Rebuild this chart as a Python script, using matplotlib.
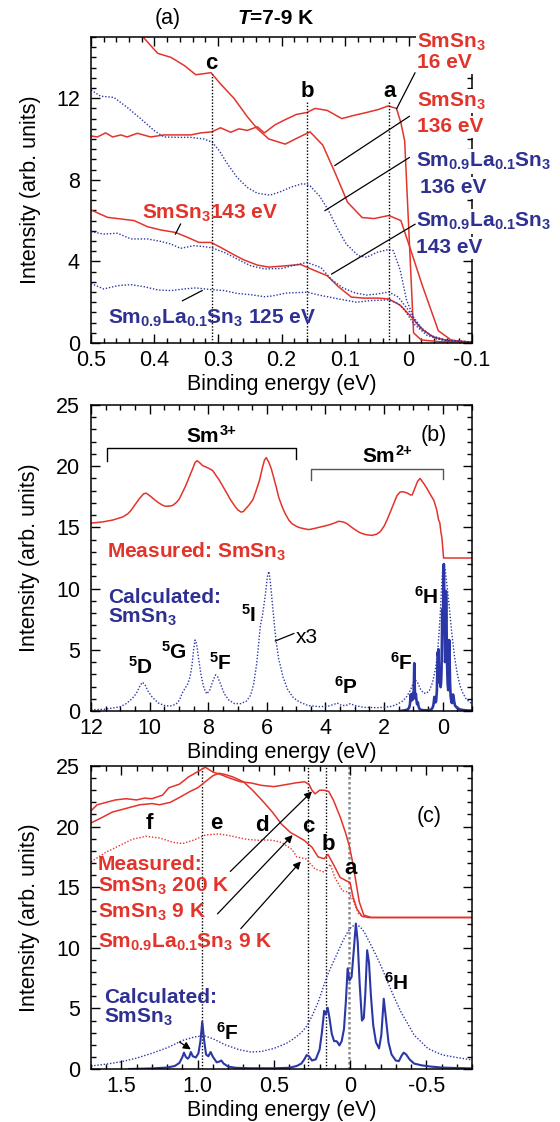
import matplotlib
matplotlib.use("Agg")
import matplotlib.pyplot as plt
from matplotlib.ticker import MultipleLocator, FuncFormatter

plt.rcParams.update({
    "font.family": ["Liberation Sans", "DejaVu Sans"],
    "mathtext.fontset": "custom",
    "mathtext.rm": "Liberation Sans",
    "mathtext.bf": "Liberation Sans:bold",
    "mathtext.it": "Liberation Sans:italic",
    "mathtext.default": "bf",
    "axes.unicode_minus": False,
})

RED = "#e3342b"
BLUE = "#2e3192"
BLUE_LINE = "#2b37a6"
DOT = (0, (1.0, 1.3))

# ---------------- panel (a): T = 7-9 K, near E_F ----------------
a16_x = [0.500, 0.490, 0.477, 0.466, 0.453, 0.443, 0.427, 0.406, 0.385, 0.364, 0.343, 0.327,
         0.310, 0.296, 0.280, 0.267, 0.254, 0.238, 0.227, 0.210, 0.194, 0.177, 0.160, 0.147,
         0.128, 0.105, 0.087, 0.066, 0.047, 0.032, 0.019, 0.012, 0.006, -0.008, -0.020,
         -0.050, -0.100]
a16_y = [10.15, 10.10, 10.30, 10.10, 10.20, 10.10, 10.28, 10.10, 10.20, 10.20, 10.20, 10.30,
         10.35, 10.55, 10.33, 10.50, 10.42, 10.60, 10.30, 10.70, 10.95, 11.20, 11.30, 11.50,
         11.40, 11.00, 11.15, 11.30, 11.45, 11.62, 11.50, 10.80, 9.90, 0.50, 0.15,
         0.06, 0.05]

a136_x = [0.425, 0.418, 0.395, 0.374, 0.353, 0.335, 0.311, 0.296, 0.275, 0.254, 0.238, 0.220,
          0.194, 0.175, 0.155, 0.135, 0.115, 0.096, 0.073, 0.054, 0.031, 0.012, -0.002,
          -0.022, -0.047, -0.067, -0.086, -0.100]
a136_y = [15.3, 15.0, 14.2, 14.0, 13.6, 13.15, 13.25, 12.7, 12.0, 11.1, 10.5, 10.0,
          9.75, 10.05, 10.35, 9.7, 8.3, 6.9, 6.15, 6.1, 6.25, 6.0, 4.7,
          2.8, 0.6, 0.15, 0.06, 0.05]

aLa136_x = [0.500, 0.485, 0.464, 0.443, 0.422, 0.400, 0.385, 0.364, 0.343, 0.322, 0.309, 0.298,
            0.285, 0.270, 0.254, 0.238, 0.218, 0.203, 0.184, 0.166, 0.155, 0.140, 0.126, 0.113,
            0.098, 0.079, 0.066, 0.050, 0.032, 0.024, 0.013, 0.003, -0.008, -0.023, -0.044,
            -0.070, -0.100]
aLa136_y = [12.40, 12.10, 12.04, 11.55, 11.00, 10.40, 10.10, 10.08, 10.08, 10.00, 9.84, 9.43,
            8.77, 8.12, 7.63, 7.34, 7.25, 7.40, 7.65, 7.82, 7.70, 7.20, 6.50, 5.67,
            4.85, 4.28, 4.20, 4.44, 4.58, 4.53, 3.56, 2.10, 1.27, 0.62, 0.20,
            0.10, 0.05]

a143_x = [0.500, 0.474, 0.453, 0.432, 0.411, 0.390, 0.367, 0.348, 0.330, 0.311, 0.296, 0.277,
          0.259, 0.238, 0.220, 0.195, 0.170, 0.155, 0.140, 0.128, 0.110, 0.090, 0.070, 0.048,
          0.031, 0.013, -0.005, -0.020, -0.039, -0.060, -0.100]
a143_y = [6.52, 6.16, 6.08, 6.00, 5.70, 5.54, 5.42, 5.18, 4.93, 4.93, 4.69, 4.36,
          4.07, 3.82, 3.72, 3.78, 3.85, 3.65, 3.45, 3.30, 2.75, 2.25, 2.20, 2.20,
          2.16, 1.85, 1.26, 0.70, 0.30, 0.13, 0.05]

aLa143_x = [0.500, 0.480, 0.458, 0.437, 0.411, 0.390, 0.374, 0.359, 0.338, 0.320, 0.309, 0.290,
            0.270, 0.249, 0.227, 0.200, 0.175, 0.160, 0.138, 0.121, 0.103, 0.084, 0.066, 0.050,
            0.031, 0.016, 0.000, -0.013, -0.034, -0.060, -0.100]
aLa143_y = [5.46, 5.34, 5.38, 5.10, 5.10, 4.98, 4.85, 4.64, 4.77, 4.72, 4.66, 4.44,
            4.12, 3.79, 3.63, 3.65, 3.85, 3.95, 3.70, 3.10, 2.70, 2.45, 2.35, 2.40,
            2.50, 2.25, 1.60, 0.95, 0.38, 0.13, 0.05]

aLa125_x = [0.500, 0.480, 0.458, 0.437, 0.416, 0.395, 0.374, 0.353, 0.335, 0.309, 0.290, 0.270,
            0.249, 0.227, 0.216, 0.192, 0.160, 0.138, 0.110, 0.082, 0.059, 0.031, 0.017, 0.008,
            -0.008, -0.029, -0.055, -0.100]
aLa125_y = [2.92, 2.65, 2.81, 2.86, 2.76, 2.60, 2.57, 2.65, 2.70, 2.61, 2.57, 2.43,
            2.37, 2.27, 2.30, 2.45, 2.49, 2.33, 2.16, 2.00, 2.08, 2.11, 1.95, 1.70,
            0.95, 0.38, 0.12, 0.05]

a_marks = ["c", "b", "a"]
a_mark_x = [0.31, 0.16, 0.03]
a_mark_top = [13.2, 11.8, 11.8]

# ---------------- panel (b): valence band, wide range ----------------
b_meas_x = [12.0, 11.6, 11.26, 10.92, 10.75, 10.63, 10.5, 10.35, 10.2, 10.12, 10.0, 9.85, 9.72,
            9.55, 9.44, 9.3, 9.21, 9.08, 8.98, 8.87, 8.76, 8.65, 8.53, 8.45, 8.38, 8.3, 8.19,
            8.0, 7.85, 7.75, 7.62, 7.5, 7.39, 7.25, 7.11, 7.0, 6.88, 6.8, 6.71, 6.6, 6.48, 6.38,
            6.25, 6.15, 6.08, 6.02, 5.94, 5.85, 5.77, 5.68, 5.6, 5.48, 5.37, 5.25, 5.14, 5.0,
            4.91, 4.75, 4.57, 4.4, 4.23, 4.05, 3.89, 3.7, 3.55, 3.4, 3.26, 3.1, 2.98, 2.85,
            2.75, 2.6, 2.41, 2.25, 2.13, 2.0, 1.9, 1.78, 1.67, 1.56, 1.45, 1.33, 1.2, 1.1, 1.04,
            0.95, 0.85, 0.77, 0.65, 0.53, 0.4, 0.3, 0.2, 0.14, 0.1, 0.06, 0.03, 0.0, -0.03, -1.0]
b_meas_y = [15.35, 15.45, 15.6, 15.85, 16.1, 16.4, 16.85, 17.35, 17.75, 17.8, 17.6, 17.3, 17.05,
            16.8, 16.72, 16.75, 16.8, 17.05, 17.35, 17.9, 18.45, 19.1, 19.8, 20.3, 20.45, 20.3,
            20.05, 19.85, 19.65, 19.3, 18.85, 18.35, 17.9, 17.3, 16.8, 16.45, 16.25, 16.3,
            16.55, 16.85, 17.25, 17.9, 18.85, 19.9, 20.5, 20.7, 20.35, 19.8, 19.1, 18.3, 17.5,
            16.7, 16.1, 15.6, 15.3, 15.1, 15.0, 14.9, 14.82, 14.9, 15.0, 15.1, 15.2, 15.35,
            15.5, 15.45, 15.3, 15.0, 14.8, 14.6, 14.5, 14.4, 14.35, 14.45, 14.65, 15.1, 15.6,
            16.3, 16.95, 17.6, 17.9, 17.9, 17.8, 17.65, 17.65, 18.2, 18.8, 19.0, 18.6, 18.15,
            17.6, 17.2, 16.4, 15.6, 15.4, 14.6, 14.2, 13.4, 12.5, 12.5]

b_calc3_x = [12.0, 11.5, 11.0, 10.8, 10.6, 10.45, 10.32, 10.24, 10.15, 10.05, 9.9, 9.7, 9.5, 9.3,
             9.1, 8.98, 8.88, 8.78, 8.7, 8.62, 8.55, 8.5, 8.45, 8.4, 8.33, 8.25, 8.15, 8.05,
             7.95, 7.85, 7.75, 7.68, 7.58, 7.45, 7.3, 7.1, 6.9, 6.7, 6.55, 6.45, 6.35, 6.3,
             6.22, 6.15, 6.05, 5.98, 5.93, 5.88, 5.8, 5.7, 5.6, 5.45, 5.3, 5.1, 4.9, 4.6, 4.2,
             3.9, 3.7, 3.6, 3.45, 3.3, 3.15, 3.0, 2.7, 2.2, 1.8, 1.6, 1.4, 1.25, 1.1, 1.0, 0.92,
             0.85, 0.75, 0.65, 0.55, 0.45, 0.35, 0.25, 0.18, 0.12, 0.07, 0.03, 0.0, -0.04,
             -0.08, -0.15, -0.22, -0.3, -0.4, -0.5, -0.6, -0.7, -0.8, -0.9, -1.0]
b_calc3_y = [0.1, 0.15, 0.35, 0.6, 1.0, 1.45, 2.1, 2.35, 2.1, 1.6, 1.1, 0.65, 0.45, 0.4,
             0.55, 0.9, 1.5, 1.9, 2.2, 2.8, 3.8, 5.0, 5.8, 5.5, 4.3, 3.0, 1.9, 1.4,
             1.7, 2.4, 2.95, 2.8, 2.2, 1.4, 0.9, 0.6, 0.6, 0.8, 1.3, 2.2, 3.8, 5.0,
             7.0, 7.8, 9.5, 11.0, 11.4, 10.5, 8.5, 6.0, 4.3, 2.8, 1.8, 1.1, 0.75, 0.45, 0.35,
             0.4, 0.55, 0.65, 0.45, 0.45, 0.6, 0.45, 0.3, 0.27, 0.35, 0.5, 0.75, 1.1, 1.7, 2.3,
             2.5, 2.3, 1.75, 1.45, 1.45, 1.7, 2.3, 3.4, 4.6, 6.5, 8.5, 10.5, 11.6, 12.05,
             11.6, 10.2, 8.6, 6.6, 4.5, 3.0, 2.0, 1.4, 1.0, 0.75, 0.6]

# calculated multiplet spectrum (6F and 6H terms), shared by panels (b) and (c)
calc_x = [1.45, 1.30, 1.20, 1.15, 1.12, 1.10, 1.09, 1.078, 1.065, 1.055, 1.045, 1.032, 1.012,
          0.995, 0.982, 0.970, 0.958, 0.945, 0.930, 0.915, 0.900, 0.875, 0.860, 0.845, 0.830,
          0.800, 0.750, 0.650, 0.500, 0.400, 0.350, 0.320, 0.300, 0.285, 0.270, 0.250, 0.225,
          0.200, 0.185, 0.170, 0.160, 0.147, 0.135, 0.120, 0.105, 0.090, 0.082, 0.070, 0.055,
          0.040, 0.028, 0.016, 0.004, -0.010, -0.025, -0.038, -0.050, -0.063, -0.078, -0.090,
          -0.100, -0.112, -0.124, -0.137, -0.152, -0.170, -0.190, -0.205, -0.221, -0.235,
          -0.252, -0.272, -0.300, -0.320, -0.338, -0.352, -0.368, -0.390, -0.420, -0.470,
          -0.530, -0.600, -0.700, -0.800, -1.000]
calc_y = [0.0, 0.05, 0.12, 0.25, 0.5, 1.0, 1.35, 1.0, 0.85, 1.0, 1.4, 1.05, 0.95,
          1.3, 2.3, 3.9, 2.4, 1.2, 1.05, 1.4, 1.0, 0.55, 0.6, 0.7, 0.45,
          0.2, 0.1, 0.06, 0.06, 0.1, 0.25, 0.45, 0.8, 1.15, 1.05, 0.7, 0.8,
          1.6, 3.0, 4.8, 4.5, 5.05, 4.2, 2.9, 2.3, 2.3, 2.2, 1.95, 2.3,
          3.3, 5.5, 8.3, 7.3, 7.6, 9.9, 12.0, 10.5, 7.0, 4.0, 4.2,
          6.2, 9.8, 8.8, 6.0, 3.6, 2.2, 1.7, 2.8, 5.8, 4.2,
          2.2, 1.2, 0.7, 0.65, 1.1, 1.35, 1.2, 0.8, 0.45, 0.3,
          0.2, 0.12, 0.08, 0.05, 0.03]

sm3_span = [11.45, 5.0]
sm2_span = [4.5, 0.0]

# ---------------- panel (c): near E_F, temperature dependence ----------------
c200_x = [1.70, 1.66, 1.60, 1.54, 1.47, 1.40, 1.35, 1.30, 1.23, 1.19, 1.12, 1.06, 0.99, 0.95,
          0.90, 0.85, 0.79, 0.72, 0.65, 0.58, 0.50, 0.45, 0.36, 0.30, 0.27, 0.25, 0.23, 0.20,
          0.17, 0.14, 0.11, 0.065, 0.03, 0.005, -0.013, -0.035, -0.06, -0.09, -0.14, -0.80]
c200_y = [21.3, 21.8, 22.0, 22.2, 22.3, 22.2, 22.35, 22.3, 22.6, 23.2, 23.5, 24.1, 24.6, 24.9,
          24.5, 24.3, 24.0, 23.7, 23.6, 23.4, 23.3, 23.4, 23.6, 23.7, 23.5, 23.0, 22.7, 23.0,
          23.0, 22.9, 22.2, 20.8, 19.5, 18.4, 17.3, 15.7, 13.8, 12.7, 12.5, 12.5]

c9_x = [1.70, 1.62, 1.56, 1.47, 1.38, 1.30, 1.25, 1.18, 1.12, 1.05, 1.00, 0.95, 0.90, 0.86, 0.82,
        0.77, 0.70, 0.64, 0.58, 0.51, 0.45, 0.39, 0.36, 0.30, 0.25, 0.21, 0.17, 0.145, 0.11,
        0.065, 0.02, 0.0, -0.017, -0.045, -0.078, -0.12, -0.80]
c9_y = [20.3, 20.8, 21.2, 21.5, 21.8, 21.9, 21.8, 22.0, 22.4, 22.9, 23.2, 23.7, 24.2, 24.4, 24.3,
        24.1, 23.7, 23.0, 22.2, 21.2, 20.2, 19.5, 19.3, 18.85, 18.3, 17.5, 17.35, 17.7, 16.9,
        15.8, 15.5, 15.4, 14.3, 13.2, 12.6, 12.5, 12.5]

cLa_x = [1.70, 1.60, 1.51, 1.43, 1.34, 1.25, 1.16, 1.10, 1.03, 0.95, 0.86, 0.77, 0.68, 0.60,
         0.55, 0.51, 0.45, 0.38, 0.35, 0.29, 0.23, 0.17, 0.13, 0.10, 0.05, 0.01, -0.024, -0.056,
         -0.10]
cLa_y = [17.1, 17.9, 18.45, 18.95, 19.2, 19.06, 18.7, 18.6, 18.87, 19.3, 19.4, 19.2, 18.95, 18.87,
         18.9, 18.87, 18.7, 18.1, 17.5, 17.35, 16.5, 16.25, 16.9, 15.8, 14.7, 14.6, 13.8, 12.8,
         12.5]

c_broad_x = [1.70, 1.60, 1.50, 1.40, 1.30, 1.20, 1.10, 1.02, 0.96, 0.90, 0.82, 0.73, 0.65, 0.58,
             0.50, 0.42, 0.37, 0.32, 0.28, 0.245, 0.21, 0.18, 0.15, 0.115, 0.08, 0.05, 0.016,
             -0.01, -0.038, -0.065, -0.093, -0.13, -0.17, -0.21, -0.246, -0.29, -0.334, -0.38,
             -0.42, -0.47, -0.51, -0.56, -0.61, -0.70, -0.80]
c_broad_y = [0.25, 0.4, 0.6, 0.9, 1.3, 1.75, 2.35, 2.65, 2.75, 2.5, 2.0, 1.6, 1.4, 1.45,
             1.7, 2.1, 2.5, 3.0, 3.6, 4.5, 5.5, 6.6, 7.7, 8.7, 9.65, 10.5, 11.3,
             11.75, 11.9, 11.75, 11.3, 10.4, 9.4, 8.3, 7.2, 5.9, 4.7, 3.7,
             2.8, 2.2, 1.7, 1.4, 1.15, 0.95, 0.75]

c_marks = ["f", "e", "d", "c", "b", "a"]
c_mark_x = [1.317, 0.88, 0.578, 0.272, 0.14, -0.002]
c_mark_y = [19.8, 19.8, 19.6, 19.55, 18.05, 16.1]
c_line_x = [0.97, 0.275, 0.155]
c_line_a = 0.005


def fmt_dec(v, _):
    return "0" if abs(v) < 1e-9 else f"{v:.1f}"


def fmt_int(v, _):
    return f"{v:.0f}"


def style(ax, xmaj, xmin, ymaj, ymin, xfmt):
    ax.xaxis.set_major_locator(MultipleLocator(xmaj))
    ax.xaxis.set_minor_locator(MultipleLocator(xmin))
    ax.yaxis.set_major_locator(MultipleLocator(ymaj))
    ax.yaxis.set_minor_locator(MultipleLocator(ymin))
    ax.xaxis.set_major_formatter(FuncFormatter(xfmt))
    ax.yaxis.set_major_formatter(FuncFormatter(fmt_int))
    ax.tick_params(which="both", direction="in", top=True, right=True,
                   labelsize=15.5, width=1.0)
    ax.tick_params(which="major", length=6.5)
    ax.tick_params(which="minor", length=3.5)
    ax.tick_params(axis="y", pad=8)
    ax.tick_params(axis="x", pad=5)
    for s in ax.spines.values():
        s.set_linewidth(1.1)
    ax.set_xlabel("Binding energy (eV)", fontsize=15.5, labelpad=2)
    ax.set_ylabel("Intensity (arb. units)", fontsize=15.5, labelpad=11)


def ion_label(ax, x, y, charge):
    base = ax.text(x, y, "Sm", fontsize=15, fontweight="bold", ha="center",
                   va="baseline")
    ax.annotate(charge, xy=(1, 1), xycoords=base, xytext=(0.5, -3),
                textcoords="offset points", fontsize=10.5, fontweight="bold",
                ha="left", va="center")


fig = plt.figure(figsize=(5.6, 11.22), dpi=100)
L, W = 91 / 560, 381 / 560
axA = fig.add_axes([L, 1 - 343 / 1122, W, 306 / 1122])
axB = fig.add_axes([L, 1 - 711 / 1122, W, 306 / 1122])
axC = fig.add_axes([L, 1 - 1069 / 1122, W, 303 / 1122])

# ---------- (a) ----------
ax = axA
ax.set_xlim(0.5, -0.1)
ax.set_ylim(0, 15)
style(ax, 0.1, 0.02, 4, 0.5, fmt_dec)
ax.plot(a16_x, a16_y, color=RED, lw=1.1)
ax.plot(a136_x, a136_y, color=RED, lw=1.1)
ax.plot(a143_x, a143_y, color=RED, lw=1.1)
ax.plot(aLa136_x, aLa136_y, color=BLUE_LINE, lw=1.0, ls=DOT)
ax.plot(aLa143_x, aLa143_y, color=BLUE_LINE, lw=1.0, ls=DOT)
ax.plot(aLa125_x, aLa125_y, color=BLUE_LINE, lw=1.0, ls=DOT)
for m, xv, top in zip(a_marks, a_mark_x, a_mark_top):
    ax.vlines(xv, 0, top, color="k", lw=1.0, ls=DOT)
    ax.text(xv, top + 0.25, m, ha="center", va="baseline", fontsize=16,
            fontweight="bold")

box = dict(facecolor="white", edgecolor="none", pad=1.0)
right_labels = [
    ("SmSn$_3$", -0.0134, 14.50, RED),
    ("16 eV", -0.0134, 13.47, RED),
    ("SmSn$_3$", -0.0134, 11.60, RED),
    ("136 eV", -0.0134, 10.34, RED),
    ("Sm$_{0.9}$La$_{0.1}$Sn$_3$", -0.012, 8.63, BLUE),
    ("136 eV", -0.018, 7.34, BLUE),
    ("Sm$_{0.9}$La$_{0.1}$Sn$_3$", -0.012, 5.69, BLUE),
    ("143 eV", -0.012, 4.40, BLUE),
]
for s, xv, yv, c in right_labels:
    ax.text(xv, yv, s, color=c, fontsize=15, fontweight="bold", ha="left",
            va="baseline", clip_on=False, bbox=box, zorder=5)
ax.text(0.42, 6.08, "SmSn$_3$143 eV", color=RED, fontsize=15, fontweight="bold",
        ha="left", va="baseline")
ax.text(0.474, 0.93, "Sm$_{0.9}$La$_{0.1}$Sn$_3$ 125 eV", color=BLUE, fontsize=15,
        fontweight="bold", ha="left", va="baseline")
leaders_a = [((-0.0102, 13.24), (0.0186, 11.49)),
             ((-0.0013, 11.11), (0.116, 8.70)),
             ((-0.0013, 9.09), (0.1315, 6.49)),
             ((-0.0102, 5.82), (0.121, 3.38)),
             ((0.359, 5.83), (0.367, 5.34)),
             ((0.356, 2.07), (0.325, 2.57))]
for p, q in leaders_a:
    ax.plot([p[0], q[0]], [p[1], q[1]], color="k", lw=0.9, clip_on=False, zorder=6)
ax.text(0.38, 15.9, "(a)", fontsize=15.5, ha="center", va="center", clip_on=False)
tT = ax.text(0.269, 15.9, "T", fontsize=15, fontweight="bold", fontstyle="italic",
             ha="left", va="center", clip_on=False)
ax.annotate("=7-9 K", xy=(1, 0), xycoords=tT, fontsize=15, fontweight="bold",
            ha="left", va="bottom")

# ---------- (b) ----------
ax = axB
ax.set_xlim(12, -1)
ax.set_ylim(0, 25)
style(ax, 2, 0.5, 5, 1, fmt_int)
ax.plot(b_meas_x, b_meas_y, color=RED, lw=1.1)
ax.plot(b_calc3_x, b_calc3_y, color=BLUE_LINE, lw=1.0, ls=DOT)
ax.plot(calc_x, calc_y, color=BLUE_LINE, lw=1.9)
ax.plot([sm3_span[0], sm3_span[0], sm3_span[1], sm3_span[1]], [20.4, 21.45, 21.45, 20.6],
        color="k", lw=1.0)
ax.plot([sm2_span[0], sm2_span[0], sm2_span[1], sm2_span[1]], [18.85, 19.8, 19.8, 18.95],
        color="#555555", lw=1.0)
ion_label(ax, 8.2, 22.0, "3+")
ion_label(ax, 2.2, 20.36, "2+")
ax.text(0.29, 22.5, "(b)", fontsize=15.5, ha="center", va="center")
ax.text(11.46, 12.5, "Measured: SmSn$_3$", color=RED, fontsize=15, fontweight="bold",
        ha="left", va="baseline")
ax.text(11.43, 8.8, "Calculated:", color=BLUE, fontsize=15, fontweight="bold",
        ha="left", va="baseline")
ax.text(11.43, 7.2, "SmSn$_3$", color=BLUE, fontsize=15, fontweight="bold",
        ha="left", va="baseline")
terms_b = [("$^5$D", 10.75, 3.08), ("$^5$G", 9.61, 4.3), ("$^5$F", 7.97, 3.33),
           ("$^5$I", 6.88, 7.28), ("$^6$P", 3.72, 1.42), ("$^6$F", 1.79, 3.33),
           ("$^6$H", 0.99, 8.78)]
for s, xv, yv in terms_b:
    ax.text(xv, yv, s, fontsize=15, fontweight="bold", ha="left", va="baseline")
ax.plot([5.71, 5.08], [5.72, 6.33], color="k", lw=0.9)
ax.text(5.0, 5.54, "x3", fontsize=15, ha="left", va="baseline")

# ---------- (c) ----------
ax = axC
ax.set_xlim(1.7, -0.8)
ax.set_ylim(0, 25)
style(ax, 0.5, 0.1, 5, 1, fmt_dec)
for xv in c_line_x:
    ax.axvline(xv, color="k", lw=1.0, ls=DOT, zorder=1)
ax.axvline(c_line_a, color="#8a8a8a", lw=1.8, ls=(0, (1.0, 1.0)), zorder=1)
ax.plot(c200_x, c200_y, color=RED, lw=1.1)
ax.plot(c9_x, c9_y, color=RED, lw=1.1)
ax.plot(cLa_x, cLa_y, color=RED, lw=1.0, ls=DOT)
ax.plot(c_broad_x, c_broad_y, color=BLUE_LINE, lw=1.0, ls=DOT)
ax.plot(calc_x, calc_y, color=BLUE_LINE, lw=1.5)
for m, xv, yv in zip(c_marks, c_mark_x, c_mark_y):
    ax.text(xv, yv, m, ha="center", va="baseline", fontsize=16, fontweight="bold")
ax.text(-0.52, 20.8, "(c)", fontsize=15.5, ha="center", va="center")
meas_lines = [("Measured:", 16.4), ("SmSn$_3$ 200 K", 14.6), ("SmSn$_3$ 9 K", 12.45),
              ("Sm$_{0.9}$La$_{0.1}$Sn$_3$ 9 K", 10.0)]
for s, yv in meas_lines:
    ax.text(1.654, yv, s, color=RED, fontsize=15, fontweight="bold", ha="left",
            va="baseline")
ax.text(1.615, 5.45, "Calculated:", color=BLUE, fontsize=15, fontweight="bold",
        ha="left", va="baseline")
ax.text(1.615, 3.8, "SmSn$_3$", color=BLUE, fontsize=15, fontweight="bold",
        ha="left", va="baseline")
ax.text(0.88, 2.37, "$^6$F", fontsize=15, fontweight="bold", ha="left", va="baseline")
ax.text(-0.22, 6.5, "$^6$H", fontsize=15, fontweight="bold", ha="left", va="baseline")
arrows_c = [((0.786, 16.3), (0.25, 22.9)),
            ((0.87, 12.8), (0.377, 19.3)),
            ((0.717, 11.58), (0.323, 17.13)),
            ((1.12, 2.23), (1.045, 1.62))]
for tail, tip in arrows_c:
    ax.annotate("", xy=tip, xytext=tail,
                arrowprops=dict(arrowstyle="-|>", color="k", lw=0.9,
                                mutation_scale=11, shrinkA=0, shrinkB=0))

fig.savefig("out.png", dpi=100)
